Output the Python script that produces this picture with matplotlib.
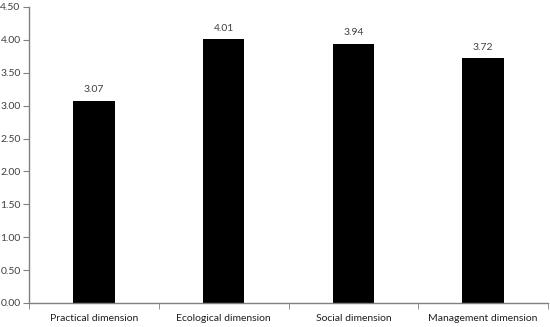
import numpy as np
import matplotlib
matplotlib.use('Agg')
import matplotlib.pyplot as plt

categories = ['Practical dimension', 'Ecological dimension', 'Social dimension', 'Management dimension']
values = [3.07, 4.01, 3.94, 3.72]
yticks = [0.0, 0.5, 1.0, 1.5, 2.0, 2.5, 3.0, 3.5, 4.0, 4.5]

plt.rcParams['font.family'] = ['Lato', 'DejaVu Sans']

fig = plt.figure(figsize=(5.5, 3.27), dpi=100)
ax = fig.add_axes([29 / 550, 24 / 327, 519 / 550, 296 / 327])

x = np.arange(len(categories))
ax.bar(x, values, width=0.32, color='black', zorder=2)
for xi, v in zip(x, values):
    ax.text(xi, v + 0.1, '%.2f' % v, ha='center', va='bottom', fontsize=7.5, color='#404040')

ax.set_xlim(-0.5, len(categories) - 0.5)
ax.set_ylim(0, 4.5)
ax.set_yticks(yticks)
ax.set_yticklabels(['%.2f' % t for t in yticks], fontsize=7.5, color='#404040')
ax.set_xticks(x)
ax.set_xticklabels(categories, fontsize=7.5, color='#202020')
ax.tick_params(axis='x', length=0, pad=8)
ax.set_xticks(np.arange(-0.5, len(categories) + 0.5, 1), minor=True)
ax.tick_params(axis='x', which='minor', length=4, color='#808080', direction='out')
ax.tick_params(axis='y', length=4, color='#808080', direction='out', pad=2)

for s in ['top', 'right']:
    ax.spines[s].set_visible(False)
for s in ['left', 'bottom']:
    ax.spines[s].set_color('#808080')
    ax.spines[s].set_linewidth(1.0)

fig.savefig('out.png', dpi=100)
